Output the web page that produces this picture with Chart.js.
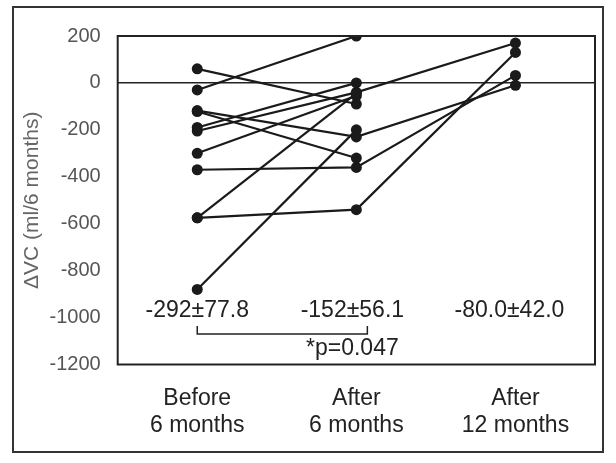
<!DOCTYPE html>
<html>
<head>
<meta charset="utf-8">
<script src="https://cdn.jsdelivr.net/npm/chart.js@4"></script>
<style>
  html, body { margin: 0; padding: 0; background: #fff; }
  #wrap { width: 616px; height: 463px; }
</style>
</head>
<body>
<div id="wrap"><canvas id="vc-chart"></canvas></div>
<script>
// one entry per patient (null = no 12 month value)
var categories = [['Before', '6 months'], ['After', '6 months'], ['After', '12 months']];
var before6 = [60, -30, -118, -122, -190, -205, -300, -370, -575, -575, -880];
var after6 = [-90, 200, -230, -320, 0, -40, -55, -360, -540, -45, -200];
var after12 = [null, null, -10, null, null, 170, null, 32, 130, null, null];
var statLabels = ['-292±77.8', '-152±56.1', '-80.0±42.0'];
var pLabel = '*p=0.047';
var yMin = -1200;
var yMax = 200;
var yStep = 200;

var ink = '#1a1a1a';
var fontFamily = '"Liberation Sans", Arial, sans-serif';

var datasets = [];
before6.forEach(function(v, i) {
    datasets.push({
        data: [v, after6[i], after12[i]],
        borderColor: ink,
        backgroundColor: ink,
        borderWidth: 2.2,
        pointRadius: 5.5,
        pointHoverRadius: 5.5,
        pointBorderWidth: 0,
        spanGaps: false,
        fill: false
    });
});

var annotate = {
    id: 'annotate',
    beforeDraw: function(chart) {
        var ctx = chart.ctx;
        ctx.save();
        ctx.strokeStyle = '#333';
        ctx.lineWidth = 2;
        ctx.strokeRect(13, 7, 590, 445);
        ctx.restore();
    },
    afterDatasetsDraw: function(chart) {
        var ctx = chart.ctx;
        var x = chart.scales.x;
        var y = chart.scales.y;
        var a = chart.chartArea;
        ctx.save();
        ctx.strokeStyle = '#222';
        ctx.lineWidth = 2;
        ctx.strokeRect(a.left, a.top, a.right - a.left, a.bottom - a.top);

        ctx.fillStyle = '#222';
        ctx.font = '23px ' + fontFamily;
        ctx.textAlign = 'center';
        ctx.textBaseline = 'middle';
        var shift = [0, -4, -6];
        statLabels.forEach(function(t, i) {
            ctx.fillText(t, x.getPixelForValue(i) + shift[i], y.getPixelForValue(-971));
        });

        // bracket between the first two groups
        var bx0 = x.getPixelForValue(0);
        var bx1 = x.getPixelForValue(1) + 11;
        var by = y.getPixelForValue(-1070);
        var byTop = y.getPixelForValue(-1036);
        ctx.lineWidth = 1.5;
        ctx.beginPath();
        ctx.moveTo(bx0, byTop);
        ctx.lineTo(bx0, by);
        ctx.lineTo(bx1, by);
        ctx.lineTo(bx1, byTop);
        ctx.stroke();
        ctx.fillText(pLabel, x.getPixelForValue(1) - 4, y.getPixelForValue(-1132));
        ctx.restore();
    }
};

var vcChart = new Chart(document.getElementById('vc-chart'), {
    type: 'line',
    data: {
        labels: categories,
        datasets: datasets
    },
    options: {
        responsive: true,
        maintainAspectRatio: false,
        animation: false,
        layout: {
            padding: { left: 0, right: 21, top: 36, bottom: 0 }
        },
        plugins: {
            legend: { display: false },
            tooltip: { enabled: false }
        },
        scales: {
            x: {
                offset: true,
                grid: { display: false, drawTicks: false },
                border: { display: false },
                ticks: {
                    color: '#222',
                    padding: 20,
                    font: { family: fontFamily, size: 23, lineHeight: 1.19 },
                    maxRotation: 0
                },
                afterFit: function(scale) { scale.height = 98.5; }
            },
            y: {
                min: yMin,
                max: yMax,
                grid: {
                    drawTicks: false,
                    lineWidth: 1.5,
                    color: function(c) { return c.tick && c.tick.value === 0 ? '#222' : 'rgba(0,0,0,0)'; }
                },
                border: { display: false },
                ticks: {
                    stepSize: yStep,
                    color: '#555',
                    padding: 17,
                    font: { family: fontFamily, size: 20 },
                    callback: function(value) { return String(value); }
                },
                title: {
                    display: true,
                    text: 'ΔVC (ml/6 months)',
                    color: '#666',
                    padding: { top: 20, bottom: 0 },
                    font: { family: fontFamily, size: 21 }
                },
                afterFit: function(scale) { scale.width = 117.7; }
            }
        }
    },
    plugins: [annotate]
});
</script>
</body>
</html>
